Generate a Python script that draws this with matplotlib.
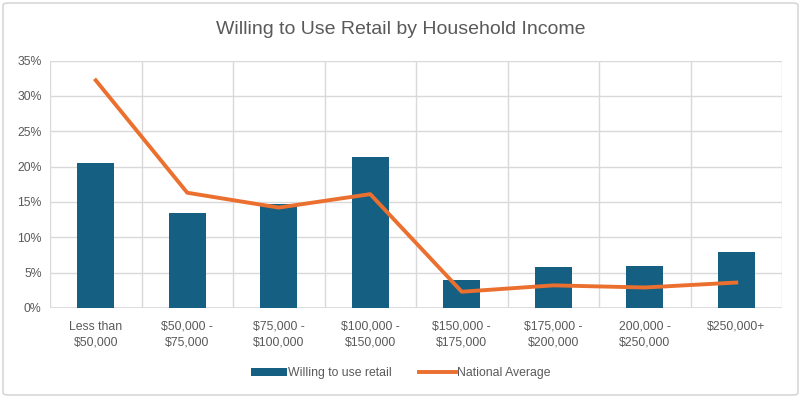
import numpy as np
import matplotlib
import matplotlib.pyplot as plt
from matplotlib.patches import FancyBboxPatch
from matplotlib.ticker import PercentFormatter

matplotlib.rc('font', family='Liberation Sans', size=8.8)

# Data (percent)
categories = ['Less than\n$50,000', '$50,000 -\n$75,000', '$75,000 -\n$100,000',
              '$100,000 -\n$150,000', '$150,000 -\n$175,000', '$175,000 -\n$200,000',
              '200,000 -\n$250,000', '$250,000+']
willing = [20.5, 13.4, 14.7, 21.3, 4.0, 5.8, 5.9, 7.9]
national = [32.2, 16.3, 14.2, 16.1, 2.3, 3.2, 2.9, 3.6]

text_col = '#595959'
grid_col = '#D9D9D9'

fig = plt.figure(figsize=(8.01, 3.98), dpi=100)
ax = fig.add_axes([50/801, 1 - 308/398, (782-50)/801, (308-60.5)/398])

x = np.arange(len(categories))
bars = ax.bar(x, willing, width=0.4, color='#155F82', label='Willing to use retail', zorder=2)
line, = ax.plot(x, national, color='#EB7030', lw=2.8, label='National Average', zorder=3)

ax.set_xlim(-0.5, len(categories) - 0.5)
ax.set_ylim(0, 35)
ax.set_yticks(np.arange(0, 36, 5))
ax.yaxis.set_major_formatter(PercentFormatter(decimals=0))
ax.set_xticks(x)
ax.set_xticklabels(categories, color=text_col, linespacing=1.45)
ax.set_xticks(np.arange(-0.5, len(categories)), minor=True)
ax.tick_params(axis='both', which='both', length=0, colors=text_col)
ax.tick_params(axis='x', pad=9)
ax.tick_params(axis='y', pad=6)
ax.grid(True, axis='y', color=grid_col, lw=1, zorder=0)
ax.grid(True, axis='x', which='minor', color=grid_col, lw=1, zorder=0)
ax.grid(False, axis='x', which='major')
for s in ax.spines.values():
    s.set_visible(False)
ax.axhline(0, color=grid_col, lw=1.2, zorder=1)

fig.text(0.5, 1 - 30/398, 'Willing to Use Retail by Household Income',
         ha='center', va='center', fontsize=14, color=text_col)

leg = fig.legend([bars, line], ['Willing to use retail', 'National Average'],
                 loc='center', bbox_to_anchor=(0.5, 1 - 373/398), ncol=2,
                 frameon=False, handlelength=3, handleheight=0.6, handletextpad=0.1,
                 columnspacing=2.2)
for t in leg.get_texts():
    t.set_color(text_col)

# light border round the chart
fig.patches.append(FancyBboxPatch((3/801, 3/398), 795/801, 392/398,
                                  boxstyle='round,pad=0,rounding_size=0.006',
                                  transform=fig.transFigure, fill=False,
                                  edgecolor='#D0D0D0', lw=1))

fig.savefig('out.png', dpi=100)
